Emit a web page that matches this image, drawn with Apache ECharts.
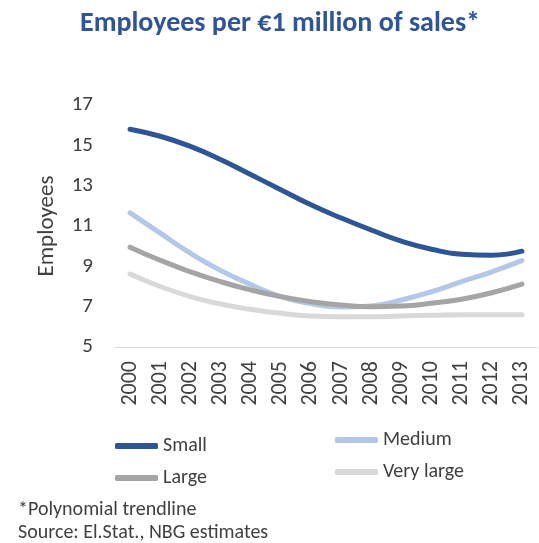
<!DOCTYPE html>
<html>
<head>
<meta charset="utf-8">
<script src="https://cdn.jsdelivr.net/npm/echarts@6/dist/echarts.min.js"></script>
<style>
  html, body { margin: 0; padding: 0; background: #fff; }
  #chart { width: 539px; height: 543px; }
</style>
</head>
<body>
<div id="chart"></div>
<script>
// data (polynomial trendlines)
const years = ['2000', '2001', '2002', '2003', '2004', '2005', '2006',
  '2007', '2008', '2009', '2010', '2011', '2012', '2013']
const small = [15.8, 15.45, 14.95, 14.3, 13.55, 12.8, 12.05, 11.4, 10.8, 10.25, 9.85, 9.6, 9.55, 9.75]
const medium = [11.65, 10.65, 9.65, 8.8, 8.1, 7.5, 7.15, 6.98, 7.03, 7.33, 7.74, 8.24, 8.73, 9.28]
const large = [9.95, 9.3, 8.73, 8.24, 7.83, 7.5, 7.25, 7.08, 7.0, 7.03, 7.17, 7.37, 7.69, 8.12]
const veryLarge = [8.62, 8.0, 7.5, 7.13, 6.87, 6.67, 6.54, 6.5, 6.5, 6.54, 6.57, 6.6, 6.6, 6.6]
const yTicks = [5, 7, 9, 11, 13, 15, 17]

const FONT = "Carlito, 'Liberation Sans Narrow', 'Open Sans', sans-serif"
const TXT = '#404040'

const myChart = echarts.init(document.getElementById('chart'))

function line(name, data, color) {
  return {
    name: name,
    type: 'line',
    data: data,
    smooth: true,
    showSymbol: false,
    lineStyle: { color: color, width: 5, cap: 'round' },
    itemStyle: { color: color }
  }
}

const legendText = { color: TXT, fontSize: 20, fontFamily: FONT }

const option = {
  animation: false,
  title: {
    text: 'Employees per €1 million of sales*',
    left: 75,
    top: 5,
    textStyle: { color: '#2F5597', fontSize: 28, fontWeight: 'bold', fontFamily: FONT }
  },
  grid: { left: 115, right: 2, top: 105, bottom: 196 },
  legend: [
    {
      data: ['Small', 'Large'],
      orient: 'vertical',
      left: 110,
      top: 431,
      itemWidth: 43,
      itemHeight: 6,
      itemGap: 12,
      icon: 'roundRect',
      textStyle: legendText
    },
    {
      data: ['Medium', 'Very large'],
      orient: 'vertical',
      left: 330,
      top: 425,
      itemWidth: 43,
      itemHeight: 6,
      itemGap: 12,
      icon: 'roundRect',
      textStyle: legendText
    }
  ],
  xAxis: {
    type: 'category',
    data: years,
    boundaryGap: true,
    axisLine: { show: true, lineStyle: { color: '#d9d9d9', width: 1 } },
    axisTick: { show: false },
    axisLabel: { rotate: 90, color: TXT, fontSize: 22, fontFamily: FONT, margin: 14 }
  },
  yAxis: {
    type: 'value',
    min: yTicks[0],
    max: yTicks[yTicks.length - 1],
    interval: 2,
    name: 'Employees',
    nameLocation: 'middle',
    nameGap: 56,
    nameTextStyle: { color: TXT, fontSize: 23, fontFamily: FONT },
    axisLine: { show: false },
    axisTick: { show: false },
    splitLine: { show: false },
    axisLabel: { color: TXT, fontSize: 21, fontFamily: FONT, margin: 22 }
  },
  graphic: [
    {
      type: 'text',
      left: 18,
      top: 500,
      style: { text: '*Polynomial trendline', fill: TXT, fontSize: 20, fontFamily: FONT }
    },
    {
      type: 'text',
      left: 18,
      top: 523,
      style: { text: 'Source: El.Stat., NBG estimates', fill: TXT, fontSize: 20, fontFamily: FONT }
    }
  ],
  series: [
    line('Small', small, '#2F5597'),
    line('Medium', medium, '#B4C7E7'),
    line('Large', large, '#A5A5A5'),
    line('Very large', veryLarge, '#D9D9D9')
  ]
}

myChart.setOption(option)
</script>
</body>
</html>
